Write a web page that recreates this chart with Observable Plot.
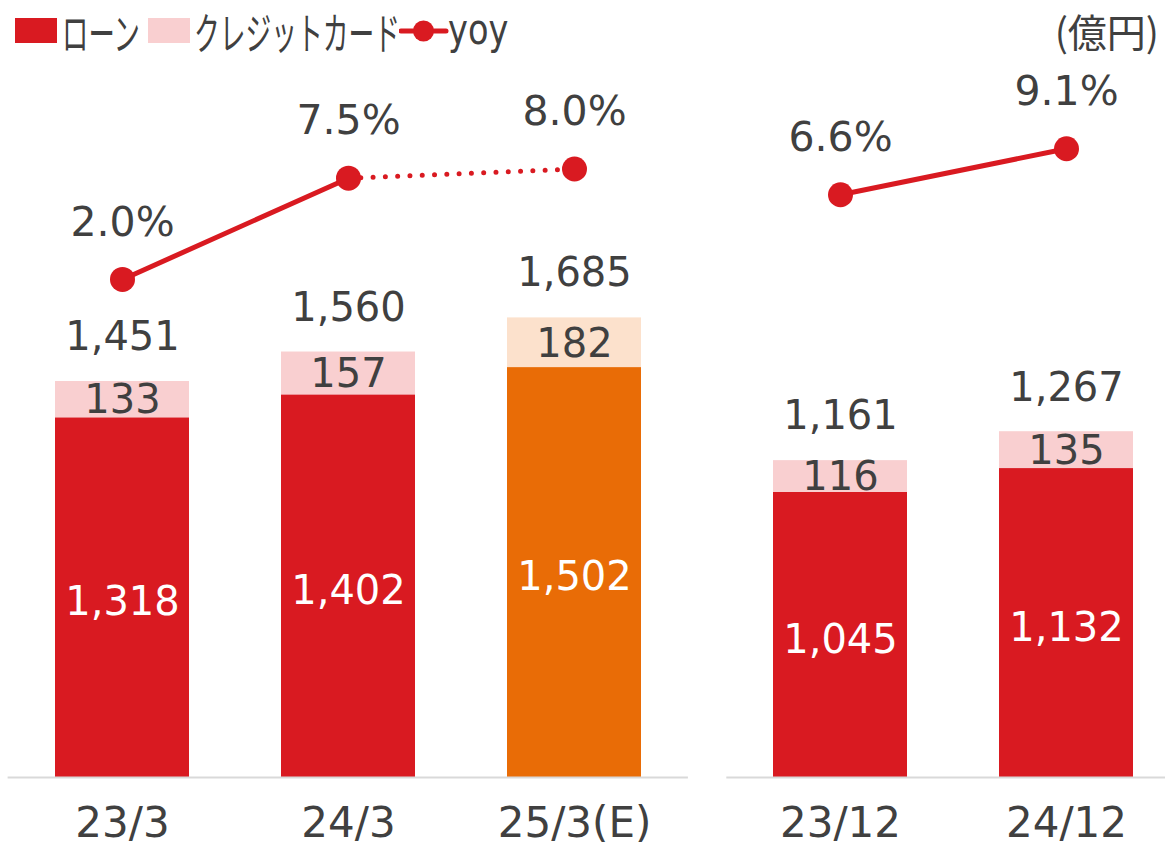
<!DOCTYPE html>
<html>
<head>
<meta charset="utf-8">
<script src="https://cdn.jsdelivr.net/npm/d3@7"></script>
<script src="https://cdn.jsdelivr.net/npm/@observablehq/plot@0.6"></script>
<style>
  html, body { margin: 0; padding: 0; background: white; overflow: hidden; }
  #root { position: relative; width: 1165px; height: 848px; overflow: hidden; font-family: "DejaVu Sans", "Noto Sans CJK JP", sans-serif; color: #404040; }
  .layer { position: absolute; left: 0; top: 0; }
  .lg { position: absolute; }
  .sw { position: absolute; width: 42px; height: 25px; top: 18px; }
  .lt { position: absolute; top: 5px; font-family: "Noto Sans CJK JP", sans-serif; font-size: 44px; line-height: 52px; transform: scaleX(0.6); transform-origin: left center; white-space: nowrap; }
</style>
</head>
<body>
<div id="root"></div>
<script>
// ---- data ----
const periodsLeft = ["23/3", "24/3", "25/3(E)"];
const loanLeft = [1318, 1402, 1502];
const cardLeft = [133, 157, 182];
const totalLeft = [1451, 1560, 1685];
const yoyLeft = [2.0, 7.5, 8.0];

const periodsRight = ["23/12", "24/12"];
const loanRight = [1045, 1132];
const cardRight = [116, 135];
const totalRight = [1161, 1267];
const yoyRight = [6.6, 9.1];

const estimatedPeriods = ["25/3(E)"];

const legendLabels = ["ローン", "クレジットカード", "yoy"];
const unitLabel = "(億円)";

// ---- styles ----
const RED = "#d91a21", PINK = "#f9cfd0", ORANGE = "#e96c06", LIGHTORANGE = "#fce1cc", TEXT = "#404040";
const W = 1165, H = 848;
const fmt = v => v.toLocaleString("en-US");

function panel(periods, loan, card, total, yoy, mLeft, width, mRight) {
  const rows = [];
  periods.forEach((p, i) => {
    const est = estimatedPeriods.includes(p);
    rows.push({period: p, part: "loan", key: est ? "loanE" : "loan", value: loan[i]});
    rows.push({period: p, part: "card", key: est ? "cardE" : "card", value: card[i]});
  });
  const totals = periods.map((p, i) => ({period: p, total: total[i]}));
  const yoyRows = periods.map((p, i) => ({period: p, yoy: yoy[i]}));
  const segRows = [];
  for (let i = 1; i < periods.length; i++) {
    const dashed = estimatedPeriods.includes(periods[i]);
    segRows.push({seg: i, dashed, period: periods[i - 1], yoy: yoy[i - 1]});
    segRows.push({seg: i, dashed, period: periods[i], yoy: yoy[i]});
  }
  const xScale = {type: "band", domain: periods, paddingInner: 0.409, paddingOuter: 0.2045, align: 0.5};
  const common = {
    width, height: H, marginLeft: mLeft, marginRight: mRight, marginTop: 0, marginBottom: 71,
    style: {background: "transparent", overflow: "visible", maxWidth: "none", color: TEXT, fontFamily: "'DejaVu Sans', 'Noto Sans CJK JP', sans-serif"}
  };
  const bars = Plot.plot({
    ...common,
    x: {...xScale, label: null},
    y: {domain: [0, 2847], axis: null},
    color: {domain: ["loan", "card", "loanE", "cardE"], range: [RED, PINK, ORANGE, LIGHTORANGE]},
    marks: [
      Plot.barY(rows, {x: "period", y: "value", fill: "key"}),
      Plot.ruleY([0], {stroke: "#d9d9d9", strokeWidth: 2}),
      Plot.text(rows, Plot.stackY({x: "period", y: "value", text: d => d.part === "loan" ? fmt(d.value) : "", fill: "white", fontSize: 40, dy: 5})),
      Plot.text(rows, Plot.stackY({x: "period", y: "value", text: d => d.part === "card" ? fmt(d.value) : "", fill: TEXT, fontSize: 40, dy: 1})),
      Plot.text(totals, {x: "period", y: "total", text: d => fmt(d.total), dy: -44, fill: TEXT, fontSize: 40}),
      Plot.axisX({tickSize: 0, tickPadding: 30, fontSize: 42, fill: TEXT, label: null})
    ]
  });
  const lines = Plot.plot({
    ...common,
    x: {...xScale, axis: null},
    y: {domain: [-25.05, 17.15], axis: null},
    marks: [
      Plot.line(segRows.filter(d => !d.dashed), {x: "period", y: "yoy", z: "seg", stroke: RED, strokeWidth: 5}),
      Plot.line(segRows.filter(d => d.dashed), {x: "period", y: "yoy", z: "seg", stroke: RED, strokeWidth: 5, strokeDasharray: "0 12.3", strokeLinecap: "round"}),
      Plot.dot(yoyRows, {x: "period", y: "yoy", r: 12.5, fill: RED}),
      Plot.text(yoyRows, {x: "period", y: "yoy", text: d => d.yoy.toFixed(1) + "%", dy: -57, fill: TEXT, fontSize: 41})
    ]
  });
  return [bars, lines];
}

const root = document.getElementById("root");
const left = panel(periodsLeft, loanLeft, cardLeft, totalLeft, yoyLeft, 7.6, 700, 700 - 687.9);
const right = panel(periodsRight, loanRight, cardRight, totalRight, yoyRight, 726.3, 1180, 1);
for (const el of [...left, ...right]) { el.classList.add("layer"); root.appendChild(el); }

// ---- legend ----
function add(html) { const d = document.createElement("div"); d.innerHTML = html; root.appendChild(d.firstElementChild); }
add(`<div class="sw" style="left:15px;background:${RED}"></div>`);
add(`<div class="lt" style="left:62px">${legendLabels[0]}</div>`);
add(`<div class="sw" style="left:148px;background:${PINK}"></div>`);
add(`<div class="lt" style="left:194px;transform:scaleX(0.585)">${legendLabels[1]}</div>`);
add(`<svg class="lg" style="left:399px;top:17px" width="50" height="28"><line x1="2" x2="47" y1="14" y2="14" stroke="${RED}" stroke-width="5" stroke-linecap="round"/><circle cx="24.5" cy="14" r="10.5" fill="${RED}"/></svg>`);
add(`<div class="lt" style="left:448px;font-family:'DejaVu Sans',sans-serif;font-size:42px;transform:scaleX(0.8);top:4px">${legendLabels[2]}</div>`);
add(`<div class="lg" style="right:6px;top:6px;font-family:'Noto Sans CJK JP',sans-serif;font-size:39px;line-height:48px;white-space:nowrap">${unitLabel}</div>`);
</script>
</body>
</html>
